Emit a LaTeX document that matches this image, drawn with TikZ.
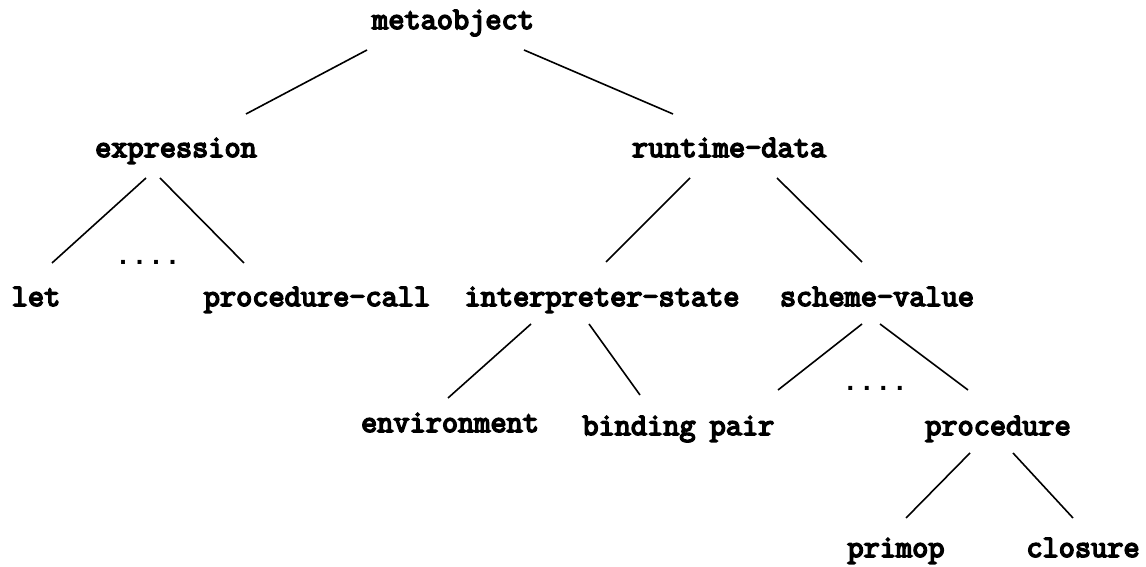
\documentclass[tikz,border=0pt]{standalone}
\usepackage{fontspec}
\setmonofont{Latin Modern Mono}[BoldFont={Latin Modern Mono},BoldFeatures={FakeBold=5}]
\newfontfamily\dotsfont{Liberation Mono}
\begin{document}
\begin{tikzpicture}[x=1pt,y=1pt,
  lbl/.style={anchor=base,inner sep=0pt,font=\fontsize{31.4}{34}\selectfont\ttfamily\bfseries},
  dotlbl/.style={anchor=base,inner sep=0pt,font=\fontsize{27.5}{30}\selectfont\dotsfont\bfseries},
  edge/.style={line width=1.6pt}]
\useasboundingbox (0,0) rectangle (1146,567);
% labels (y = 567 - baseline)
\node[lbl] (meta) at (453,538) {metaobject};
\node[lbl] (expr) at (176,410) {expression};
\node[lbl] (rtd) at (729,410) {runtime-data};
\node[lbl] (let) at (36,261) {let};
\node[dotlbl] (dots1) at (148,302) {....};
\node[lbl] (pcall) at (317,261) {procedure-call};
\node[lbl] (istate) at (602,261) {interpreter-state};
\node[lbl] (sval) at (877,261) {scheme-value};
\node[lbl] (env) at (450,135) {environment};
\node[lbl] (bind) at (639,132) {binding};
\node[lbl] (pair) at (742,132) {pair};
\node[dotlbl] (dots2) at (875,176) {....};
\node[lbl] (proc) at (998,132) {procedure};
\node[lbl] (prim) at (896,10) {primop};
\node[lbl] (clos) at (1083,10) {closure};
% connector end points
\coordinate (meta-l) at (367,517);
\coordinate (expr-t) at (246,453);
\coordinate (meta-r) at (524,517);
\coordinate (rtd-t) at (673,453);
\coordinate (expr-l) at (146,389);
\coordinate (let-t) at (52,304);
\coordinate (expr-r) at (160,389);
\coordinate (pcall-t) at (244,304);
\coordinate (rtd-l) at (690,389);
\coordinate (istate-t) at (606,305);
\coordinate (rtd-r) at (777,389);
\coordinate (sval-t) at (862,305);
\coordinate (istate-l) at (531,243);
\coordinate (env-t) at (448,169);
\coordinate (istate-r) at (589,243);
\coordinate (bind-t) at (640,172);
\coordinate (sval-l) at (862,243);
\coordinate (pair-t) at (778,177);
\coordinate (sval-r) at (880,243);
\coordinate (proc-t) at (968,177);
\coordinate (proc-l) at (970,114);
\coordinate (prim-t) at (906,49);
\coordinate (proc-r) at (1013,114);
\coordinate (clos-t) at (1073,49);
\draw[edge] (meta-l) -- (expr-t);
\draw[edge] (meta-r) -- (rtd-t);
\draw[edge] (expr-l) -- (let-t);
\draw[edge] (expr-r) -- (pcall-t);
\draw[edge] (rtd-l) -- (istate-t);
\draw[edge] (rtd-r) -- (sval-t);
\draw[edge] (istate-l) -- (env-t);
\draw[edge] (istate-r) -- (bind-t);
\draw[edge] (sval-l) -- (pair-t);
\draw[edge] (sval-r) -- (proc-t);
\draw[edge] (proc-l) -- (prim-t);
\draw[edge] (proc-r) -- (clos-t);
\end{tikzpicture}
\end{document}
